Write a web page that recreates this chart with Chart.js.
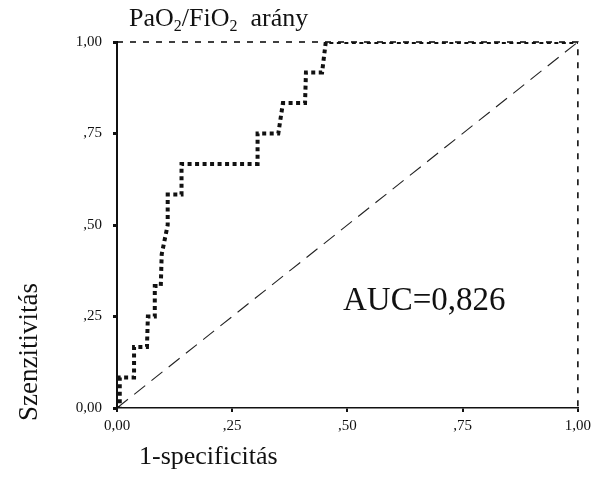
<!DOCTYPE html>
<html>
<head>
<meta charset="utf-8">
<script src="https://cdn.jsdelivr.net/npm/chart.js@4"></script>
<style>
  html, body { margin: 0; padding: 0; background: #fff; }
  #wrap { width: 596px; height: 481px; }
</style>
</head>
<body>
<div id="wrap"><canvas id="roc" width="596" height="481"></canvas></div>
<script>
// ROC curve (1-specificity, sensitivity)
const fprValues = [0, 0.006, 0.006, 0.037, 0.037, 0.065, 0.067, 0.082, 0.082, 0.095, 0.097, 0.11, 0.11, 0.14, 0.14, 0.305, 0.305, 0.35, 0.36, 0.408, 0.41, 0.445, 0.453, 1];
const tprValues = [0, 0, 0.083, 0.083, 0.167, 0.167, 0.25, 0.25, 0.333, 0.333, 0.42, 0.5, 0.583, 0.583, 0.667, 0.667, 0.75, 0.75, 0.833, 0.833, 0.917, 0.917, 1, 1];

const refX = [0, 1];
const refY = [0, 1];

const tickValues = [0, 0.25, 0.5, 0.75, 1];
const tickLabels = ["0,00", ",25", ",50", ",75", "1,00"];

const chartTitle = ["PaO", "2", "/FiO", "2", "  arány"];
const xTitle = "1-specificitás";
const yTitle = "Szenzitivitás";
const aucText = "AUC=0,826";

const SERIF = "'Liberation Serif', 'Times New Roman', serif";

function toPoints(xs, ys) {
  return xs.map((x, i) => ({ x: x, y: ys[i] }));
}

function labelFor(v) {
  const i = tickValues.findIndex(t => Math.abs(t - v) < 1e-6);
  return i >= 0 ? tickLabels[i] : "";
}

const frameAndText = {
  id: "frameAndText",
  beforeDatasetsDraw(chart) {
    const { ctx, chartArea: a } = chart;
    ctx.save();
    ctx.strokeStyle = "#000";
    ctx.lineWidth = 1.5;
    ctx.setLineDash([6, 7]);
    ctx.beginPath();
    ctx.moveTo(a.left, a.top);
    ctx.lineTo(a.right, a.top);
    ctx.lineTo(a.right, a.bottom);
    ctx.stroke();
    ctx.restore();
  },
  afterDraw(chart) {
    const { ctx } = chart;
    ctx.save();
    ctx.fillStyle = "#111";
    ctx.textBaseline = "alphabetic";
    ctx.textAlign = "left";

    // title with subscripts
    let x = 129;
    chartTitle.forEach((part, i) => {
      const sub = i === 1 || i === 3;
      ctx.font = (sub ? "16px " : "26px ") + SERIF;
      ctx.fillText(part, x, sub ? 31 : 26);
      x += ctx.measureText(part).width;
    });

    ctx.font = "33px " + SERIF;
    ctx.fillText(aucText, 343, 310);

    ctx.font = "26px " + SERIF;
    ctx.fillText(xTitle, 139, 464);

    ctx.font = "27px " + SERIF;
    ctx.translate(37, 421);
    ctx.rotate(-Math.PI / 2);
    ctx.fillText(yTitle, 0, 0);
    ctx.restore();
  }
};

new Chart(document.getElementById("roc"), {
  type: "scatter",
  data: {
    datasets: [
      {
        data: toPoints(fprValues, tprValues),
        showLine: true,
        borderColor: "#111",
        borderWidth: 4,
        borderDash: [4, 3.5],
        pointRadius: 0,
        tension: 0
      },
      {
        data: toPoints(refX, refY),
        showLine: true,
        borderColor: "#222",
        borderWidth: 1.1,
        borderDash: [14, 8],
        pointRadius: 0
      }
    ]
  },
  options: {
    responsive: false,
    animation: false,
    layout: { padding: { top: 42, right: 16, left: 0, bottom: 0 } },
    plugins: {
      legend: { display: false },
      tooltip: { enabled: false }
    },
    scales: {
      x: {
        type: "linear",
        min: 0,
        max: 1,
        afterFit(scale) { scale.height = 73; },
        afterBuildTicks(scale) { scale.ticks = tickValues.map(v => ({ value: v })); },
        border: { display: true, color: "#111", width: 1.5 },
        grid: { drawOnChartArea: false, drawTicks: true, tickLength: 4, color: "#111", lineWidth: 2 },
        ticks: {
          color: "#111",
          font: { family: SERIF, size: 15 },
          padding: 5,
          maxRotation: 0,
          callback: v => labelFor(v)
        }
      },
      y: {
        type: "linear",
        min: 0,
        max: 1,
        afterFit(scale) { scale.width = 117; },
        afterBuildTicks(scale) { scale.ticks = tickValues.map(v => ({ value: v })); },
        border: { display: true, color: "#111", width: 2 },
        grid: { drawOnChartArea: false, drawTicks: true, tickLength: 4, color: "#111", lineWidth: 3 },
        ticks: {
          color: "#111",
          font: { family: SERIF, size: 15 },
          padding: 11,
          callback: v => labelFor(v)
        }
      }
    }
  },
  plugins: [frameAndText]
});
</script>
</body>
</html>
